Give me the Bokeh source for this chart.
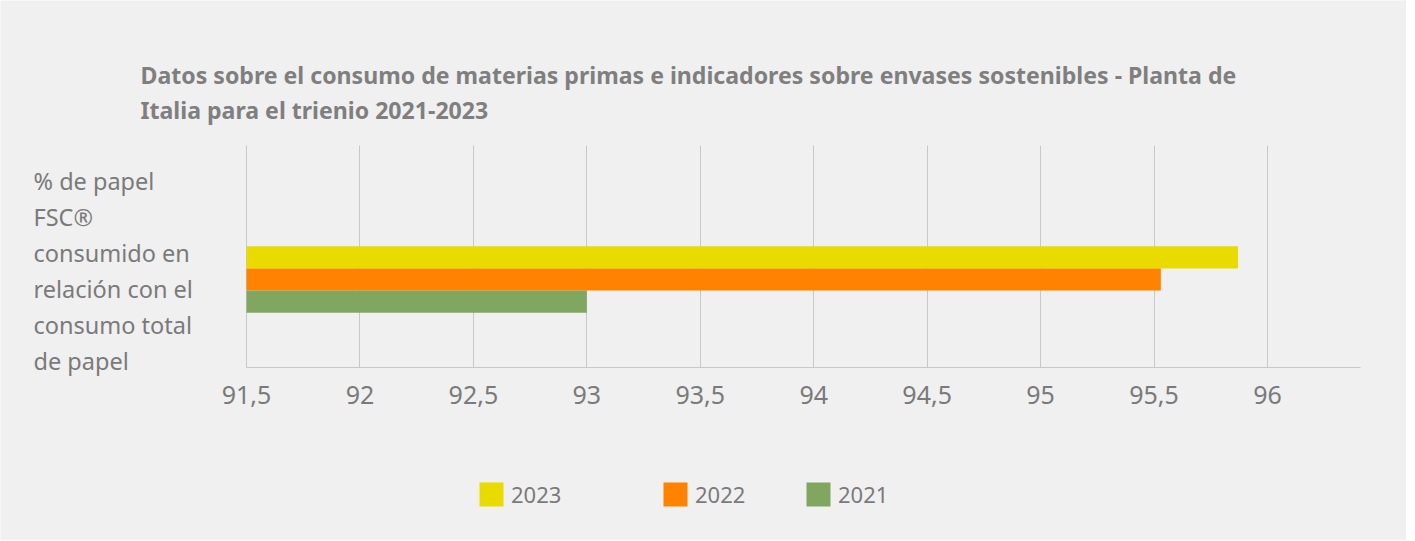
from bokeh.plotting import figure
from bokeh.models import Range1d, FixedTicker, Legend, LegendItem, ColumnDataSource, Label
from bokeh.embed import file_html
from bokeh.resources import INLINE

# ---- data ----
title_lines = [
    "Datos sobre el consumo de materias primas e indicadores sobre envases sostenibles - Planta de",
    "Italia para el trienio 2021-2023",
]
category_lines = ["% de papel", "FSC\u00ae", "consumido en", "relaci\u00f3n con el", "consumo total", "de papel"]
years = ["2023", "2022", "2021"]
values = [95.87, 95.53, 93.0]
colors = ["#E9DB00", "#FF8200", "#80A660"]
tick_values = [91.5, 92, 92.5, 93, 93.5, 94, 94.5, 95, 95.5, 96]
tick_labels = ["91,5", "92", "92,5", "93", "93,5", "94", "94,5", "95", "95,5", "96"]
axis_start = 91.5
axis_end = 96.41

# ---- layout geometry (pixels) ----
W, H = 1406, 540
PLOT_L, PLOT_T, PLOT_B = 246, 145, 367      # plotting area edges on the canvas
PX_PER_X = (1360 - PLOT_L) / (axis_end - axis_start)
BAR_PX = 22.2                                  # height of one bar in pixels
GROUP_CY = 279                                 # centre of the bar group on the canvas

FONT = "Noto Sans"
TXT = "#7a7a7a"
BG = "#f0f0f0"
GRID = "#c8c8c8"

x_rng = Range1d(axis_start - PLOT_L / PX_PER_X, axis_start + (W - PLOT_L) / PX_PER_X)
y_rng = Range1d(-(H - GROUP_CY) / BAR_PX, GROUP_CY / BAR_PX)
y_axis_pos = -(PLOT_B - GROUP_CY) / BAR_PX
y_top = (GROUP_CY - PLOT_T) / BAR_PX

p = figure(width=W, height=H, output_backend="svg", toolbar_location=None,
           x_range=x_rng, y_range=y_rng)
p.min_border_left = p.min_border_right = p.min_border_top = p.min_border_bottom = 0
p.background_fill_color = BG
p.border_fill_color = BG
p.outline_line_color = None

# bars
n = len(years)
ys = [(n // 2) - i for i in range(n)]
renderers = []
for i in range(n):
    s = ColumnDataSource(dict(y=[ys[i]], right=[values[i]], left=[axis_start]))
    r = p.hbar(y="y", left="left", right="right", height=1.0, source=s,
               fill_color=colors[i], line_color=None)
    renderers.append(r)

# axes and grid
p.yaxis.visible = False
p.ygrid.grid_line_color = None
ax = p.xaxis[0]
ax.fixed_location = y_axis_pos
ax.bounds = (axis_start, axis_end)
ax.ticker = FixedTicker(ticks=tick_values)
ax.major_label_overrides = {v: l for v, l in zip(tick_values, tick_labels)}
ax.axis_line_color = GRID
ax.major_tick_line_color = None
ax.minor_tick_line_color = None
ax.major_label_text_font = FONT
ax.major_label_text_font_size = "25px"
ax.major_label_text_color = TXT
ax.major_label_standoff = 12
g = p.xgrid[0]
g.grid_line_color = GRID
g.grid_line_width = 1
g.cross_bounds = (y_axis_pos, y_top)

# title
for i, t in enumerate(title_lines):
    p.add_layout(Label(x=140, y=H - (74 + 35 * i), x_units="screen", y_units="screen", text=t,
                       text_font=FONT, text_font_style="bold", text_font_size="23.1px",
                       text_color="#7f7f7f", text_baseline="alphabetic"))

# category label
for i, t in enumerate(category_lines):
    p.add_layout(Label(x=33, y=H - (180 + 36 * i), x_units="screen", y_units="screen", text=t,
                       text_font=FONT, text_font_size="23.5px", text_color=TXT,
                       text_baseline="alphabetic"))

# legends (separate, to keep the irregular spacing)
leg_x = [476, 660, 803]
for i in range(n):
    lg = Legend(items=[LegendItem(label=years[i], renderers=[renderers[i]])],
                location=(leg_x[i], 31), orientation="horizontal",
                glyph_width=30, glyph_height=30, label_standoff=5,
                label_text_font=FONT, label_text_font_size="22px", label_text_color=TXT,
                padding=0, margin=0, spacing=0, border_line_color=None,
                background_fill_alpha=0)
    p.add_layout(lg, "center")

open("out.html", "w").write(file_html(p, INLINE))
